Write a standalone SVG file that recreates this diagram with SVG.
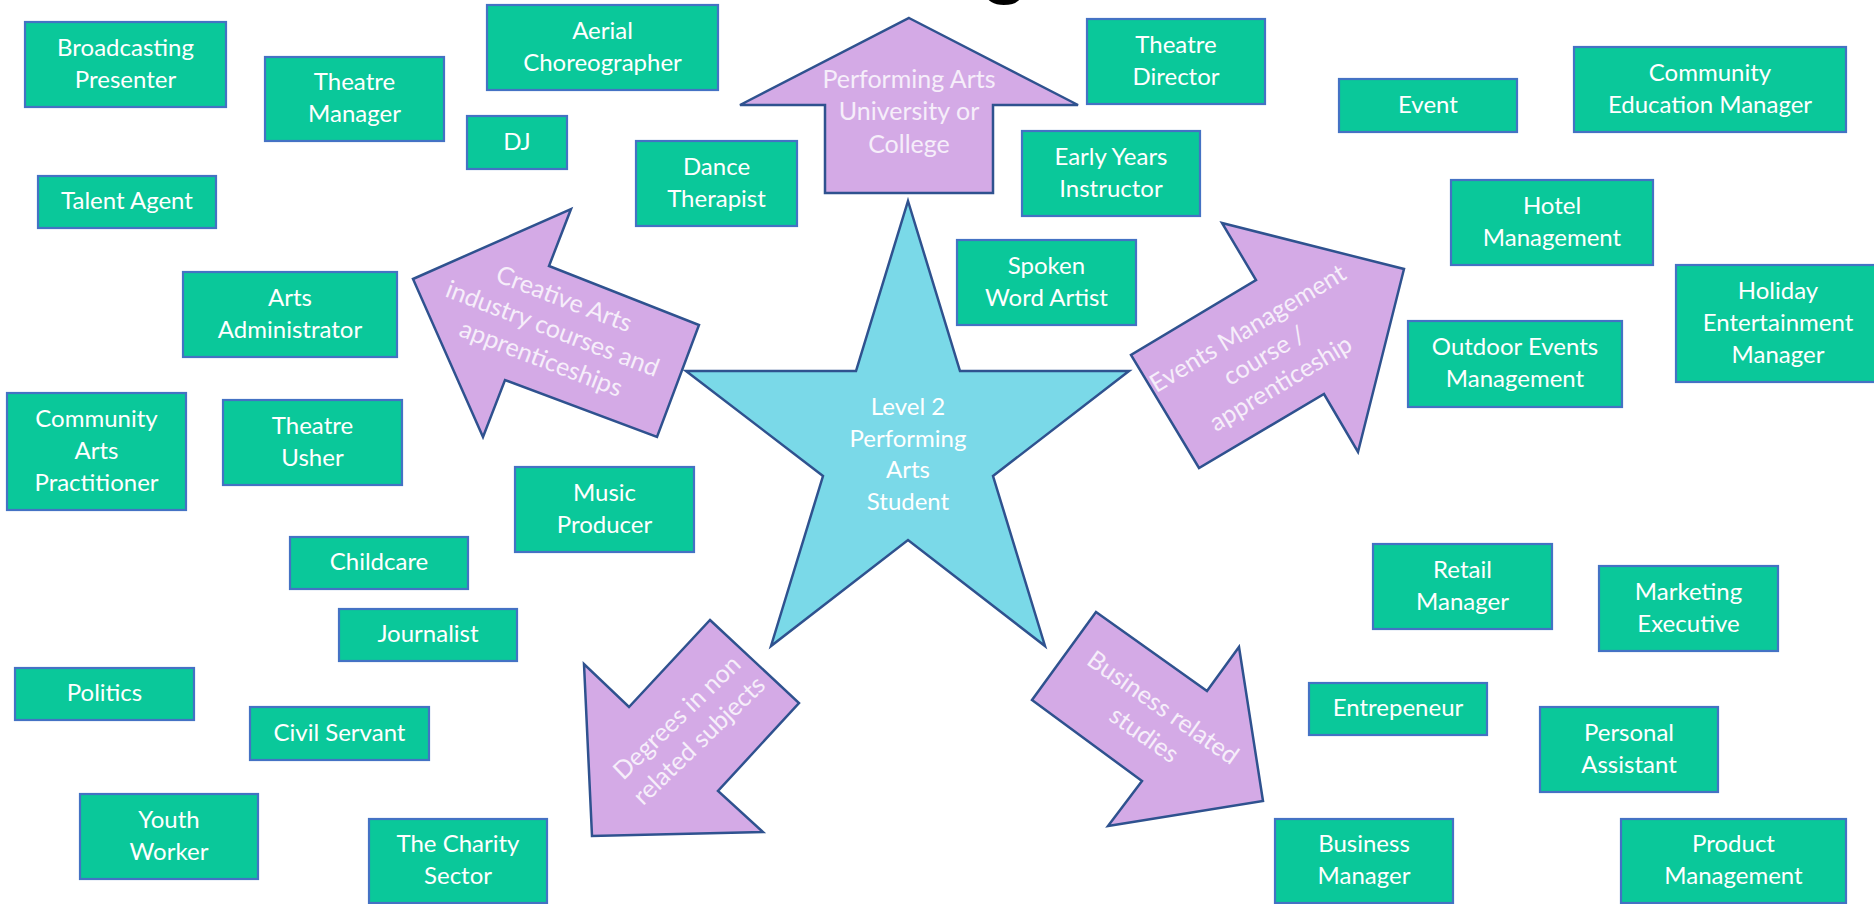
<svg xmlns="http://www.w3.org/2000/svg" width="1874" height="904" viewBox="0 0 1874 904">
<style>
.box rect{fill:#0AC89A;stroke:#4472C4;stroke-width:2.2}
.box text,.shape text{fill:#ffffff;font-family:Lato,"Liberation Sans",sans-serif;font-size:24px;text-anchor:middle}
.arrow polygon{fill:#D4AAE6;stroke:#2F528F;stroke-width:2.5;stroke-linejoin:miter}
.star polygon{fill:#7AD9E8;stroke:#2F528F;stroke-width:2.5;stroke-linejoin:miter}
.arrow text{fill:#F6EEFA;font-size:25px}
.title{font-family:"Liberation Sans",sans-serif;font-weight:bold;font-size:80px;fill:#000;text-anchor:middle}
</style>
<rect width="1874" height="904" fill="#ffffff"/>
<text class="title" x="1005" y="-12">g</text>

<g id="pathways">
<g id="arrow-performing-arts" class="shape arrow">
<polygon points="909,18 1078,105 993,105 993,193 825,193 825,105 740,105"/>
<text x="909" y="88">Performing Arts</text>
<text x="909" y="120">University or</text>
<text x="909" y="153">College</text>
</g>
<g id="arrow-creative-arts" class="shape arrow">
<polygon points="413,279 571,209 549,266 699,325 657,437 505,380 483,437"/>
<g transform="translate(552,330) rotate(21)">
<text x="0" y="-25">Creative Arts</text>
<text x="0" y="7">industry courses and</text>
<text x="0" y="39">apprenticeships</text>
</g>
</g>
<g id="arrow-events" class="shape arrow">
<polygon points="1222,223 1404,269 1358,452 1324,394 1199,468 1131,355 1256,280"/>
<g transform="translate(1265,357) rotate(-31)">
<text x="0" y="-25">Events Management</text>
<text x="0" y="7">course /</text>
<text x="0" y="39">apprenticeship</text>
</g>
</g>
<g id="arrow-degrees" class="shape arrow">
<polygon points="710,620 799,703 718,791 763,832 592,836 584,664 629,707"/>
<g transform="translate(689,730) rotate(-44)">
<text x="0" y="-9">Degrees in non</text>
<text x="0" y="23">related subjects</text>
</g>
</g>
<g id="arrow-business" class="shape arrow">
<polygon points="1096,612 1207,691 1239,647 1263,801 1108,826 1142,781 1032,700"/>
<g transform="translate(1153,722) rotate(35)">
<text x="0" y="-9">Business related</text>
<text x="0" y="24">studies</text>
</g>
</g>
</g>

<g id="student" class="shape star">
<polygon points="908,201 960,371 1129,371 993,476 1045,646 908,540 771,646 823,476 686,371 856,371"/>
<text x="908" y="415">Level 2</text>
<text x="908" y="447">Performing</text>
<text x="908" y="478">Arts</text>
<text x="908" y="510">Student</text>
</g>

<g id="broadcasting-presenter" class="box"><rect x="25" y="22" width="201" height="85"/><text x="125.5" y="55.5">Broadcasting</text><text x="125.5" y="87.5">Presenter</text></g>
<g id="theatre-manager" class="box"><rect x="265" y="57" width="179" height="84"/><text x="354.5" y="90">Theatre</text><text x="354.5" y="122">Manager</text></g>
<g id="aerial-choreographer" class="box"><rect x="487" y="5" width="231" height="85"/><text x="602.5" y="38.5">Aerial</text><text x="602.5" y="70.5">Choreographer</text></g>
<g id="dj" class="box"><rect x="467" y="116" width="100" height="53"/><text x="517" y="149.5">DJ</text></g>
<g id="dance-therapist" class="box"><rect x="636" y="141" width="161" height="85"/><text x="716.5" y="174.5">Dance</text><text x="716.5" y="206.5">Therapist</text></g>
<g id="talent-agent" class="box"><rect x="38" y="176" width="178" height="52"/><text x="127" y="209">Talent Agent</text></g>
<g id="arts-administrator" class="box"><rect x="183" y="272" width="214" height="85"/><text x="290" y="305.5">Arts</text><text x="290" y="337.5">Administrator</text></g>
<g id="community-arts-practitioner" class="box"><rect x="7" y="393" width="179" height="117"/><text x="96.5" y="426.5">Community</text><text x="96.5" y="458.5">Arts</text><text x="96.5" y="490.5">Practitioner</text></g>
<g id="theatre-usher" class="box"><rect x="223" y="400" width="179" height="85"/><text x="312.5" y="433.5">Theatre</text><text x="312.5" y="465.5">Usher</text></g>
<g id="music-producer" class="box"><rect x="515" y="467" width="179" height="85"/><text x="604.5" y="500.5">Music</text><text x="604.5" y="532.5">Producer</text></g>
<g id="childcare" class="box"><rect x="290" y="537" width="178" height="52"/><text x="379" y="570">Childcare</text></g>
<g id="journalist" class="box"><rect x="339" y="609" width="178" height="52"/><text x="428" y="642">Journalist</text></g>
<g id="politics" class="box"><rect x="15" y="668" width="179" height="52"/><text x="104.5" y="701">Politics</text></g>
<g id="civil-servant" class="box"><rect x="250" y="707" width="179" height="53"/><text x="339.5" y="740.5">Civil Servant</text></g>
<g id="youth-worker" class="box"><rect x="80" y="794" width="178" height="85"/><text x="169" y="827.5">Youth</text><text x="169" y="859.5">Worker</text></g>
<g id="charity-sector" class="box"><rect x="369" y="819" width="178" height="84"/><text x="458" y="852">The Charity</text><text x="458" y="884">Sector</text></g>

<g id="theatre-director" class="box"><rect x="1087" y="19" width="178" height="85"/><text x="1176" y="52.5">Theatre</text><text x="1176" y="84.5">Director</text></g>
<g id="event" class="box"><rect x="1339" y="79" width="178" height="53"/><text x="1428" y="112.5">Event</text></g>
<g id="community-education-manager" class="box"><rect x="1574" y="47" width="272" height="85"/><text x="1710" y="80.5">Community</text><text x="1710" y="112.5">Education Manager</text></g>
<g id="early-years-instructor" class="box"><rect x="1022" y="131" width="178" height="85"/><text x="1111" y="164.5">Early Years</text><text x="1111" y="196.5">Instructor</text></g>
<g id="hotel-management" class="box"><rect x="1451" y="180" width="202" height="85"/><text x="1552" y="213.5">Hotel</text><text x="1552" y="245.5">Management</text></g>
<g id="spoken-word-artist" class="box"><rect x="957" y="240" width="179" height="85"/><text x="1046.5" y="273.5">Spoken</text><text x="1046.5" y="305.5">Word Artist</text></g>
<g id="holiday-entertainment-manager" class="box"><rect x="1676" y="265" width="204" height="117"/><text x="1778" y="298.5">Holiday</text><text x="1778" y="330.5">Entertainment</text><text x="1778" y="362.5">Manager</text></g>
<g id="outdoor-events-management" class="box"><rect x="1408" y="321" width="214" height="86"/><text x="1515" y="355">Outdoor Events</text><text x="1515" y="387">Management</text></g>
<g id="retail-manager" class="box"><rect x="1373" y="544" width="179" height="85"/><text x="1462.5" y="577.5">Retail</text><text x="1462.5" y="609.5">Manager</text></g>
<g id="marketing-executive" class="box"><rect x="1599" y="566" width="179" height="85"/><text x="1688.5" y="599.5">Marketing</text><text x="1688.5" y="631.5">Executive</text></g>
<g id="entrepeneur" class="box"><rect x="1309" y="683" width="178" height="52"/><text x="1398" y="716">Entrepeneur</text></g>
<g id="personal-assistant" class="box"><rect x="1540" y="707" width="178" height="85"/><text x="1629" y="740.5">Personal</text><text x="1629" y="772.5">Assistant</text></g>
<g id="business-manager" class="box"><rect x="1275" y="819" width="178" height="84"/><text x="1364" y="852">Business</text><text x="1364" y="884">Manager</text></g>
<g id="product-management" class="box"><rect x="1621" y="819" width="225" height="84"/><text x="1733.5" y="852">Product</text><text x="1733.5" y="884">Management</text></g>
</svg>
